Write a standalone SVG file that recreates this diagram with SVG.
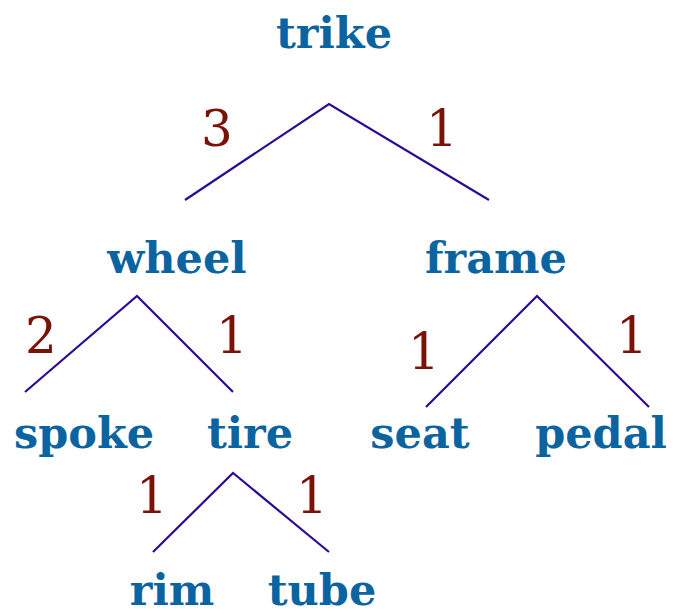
<svg xmlns="http://www.w3.org/2000/svg" width="673" height="614" viewBox="0 0 673 614">
<style>
.n{font-family:"DejaVu Serif",serif;font-weight:bold;font-size:43px;fill:#0b64a0;text-anchor:middle}
.w{font-family:"DejaVu Serif",serif;font-size:50px;fill:#7a1208;text-anchor:middle}
.e{stroke:#2b0b96;stroke-width:2.2;fill:none}
</style>
<rect width="673" height="614" fill="#fff"/>
<g id="connectors">
<polyline class="e" points="185,200 329,104 489,200"/>
<polyline class="e" points="25,392 137,296 233,392"/>
<polyline class="e" points="426,407 537,296 649,407"/>
<polyline class="e" points="153,552 233,473 329,552"/>
<text class="w" x="217" y="146">3</text>
<text class="w" x="442" y="146">1</text>
<text class="w" x="41" y="353">2</text>
<text class="w" x="232" y="353">1</text>
<text class="w" x="424" y="369">1</text>
<text class="w" x="632" y="353">1</text>
<text class="w" x="152" y="513">1</text>
<text class="w" x="312" y="513">1</text>
</g>
<g id="trike"><text class="n" x="334" y="48">trike</text></g>
<g id="wheel"><text class="n" x="177" y="273">wheel</text></g>
<g id="frame"><text class="n" x="496" y="273">frame</text></g>
<g id="spoke"><text class="n" x="84" y="448">spoke</text></g>
<g id="tire"><text class="n" x="250" y="448">tire</text></g>
<g id="seat"><text class="n" x="420" y="448">seat</text></g>
<g id="pedal"><text class="n" x="601" y="448">pedal</text></g>
<g id="rim"><text class="n" x="172" y="605">rim</text></g>
<g id="tube"><text class="n" x="322" y="605">tube</text></g>
</svg>
